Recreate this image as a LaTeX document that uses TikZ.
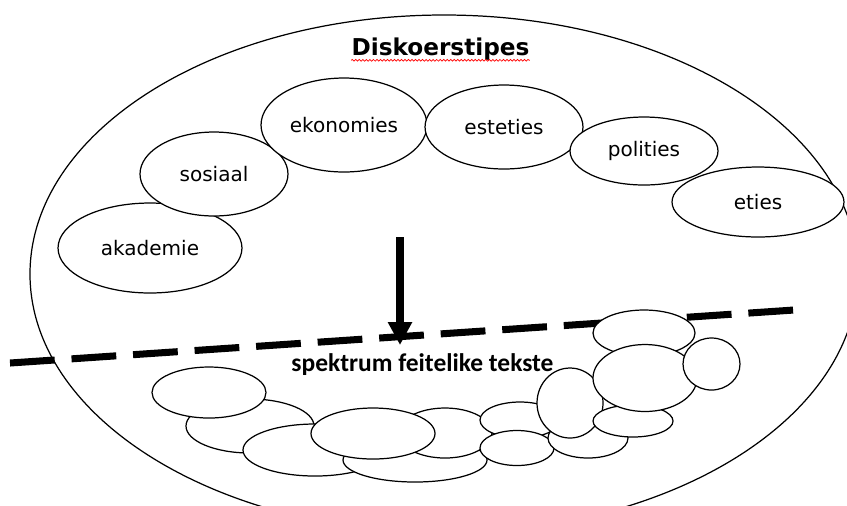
\documentclass[tikz,border=0pt]{standalone}
\usepackage{fontspec}
\setmainfont{DejaVu Sans}
\newfontfamily\calfont{Carlito}
\usetikzlibrary{arrows.meta,shapes.geometric,decorations.pathmorphing}

\tikzset{
  soort/.style={draw, ellipse, fill=white, line width=0.7pt, inner sep=0pt,
    font=\fontsize{11.4}{13}\selectfont},
  wolk/.style={draw, fill=white, line width=0.7pt},
}

\begin{document}
\begin{tikzpicture}[x=0.02cm, y=-0.02cm]
  \useasboundingbox (0,0) rectangle (847,505);
  % groot ellips
  \draw[line width=0.7pt] (444,274) ellipse [x radius=414, y radius=259];
  % titel
  \node[font=\fontsize{13.2}{15}\selectfont\bfseries, anchor=base, inner sep=0pt] (titel) at (440.5,55) {Diskoerstipes};
  \draw[red, line width=0.4pt, decorate, decoration={snake, amplitude=0.5pt, segment length=2pt}]
    ([yshift=-3pt]titel.base west) -- ([yshift=-3pt]titel.base east);
  % skeidslyn en pyl
  \coordinate (lynl) at (10,363);
  \coordinate (lynr) at (794,310);
  \draw[line width=4pt, dash pattern=on 25.5pt off 9.6pt] (lynl) -- (lynr);
  \coordinate (pylbo) at (400,237);
  \coordinate (pylpunt) at (400,345);
  \draw[line width=4pt, -{Triangle[length=13pt,width=13pt]}] (pylbo) -- (pylpunt);
  % diskoerstipes
  \node[soort, minimum width=3.68cm, minimum height=1.80cm] (akademie) at (150,248) {akademie};
  \node[soort, minimum width=2.96cm, minimum height=1.68cm] (sosiaal) at (214,174) {sosiaal};
  \node[soort, minimum width=3.32cm, minimum height=1.88cm] (ekonomies) at (344,125) {ekonomies};
  \node[soort, minimum width=3.16cm, minimum height=1.68cm] (esteties) at (504,127) {esteties};
  \node[soort, minimum width=2.96cm, minimum height=1.36cm] (polities) at (644,151) {polities};
  \node[soort, minimum width=3.44cm, minimum height=1.40cm] (eties) at (758,202) {eties};
  % spektrum van tekste
  \foreach \cx/\cy/\rx/\ry in {250/426/64/27, 315/450/72/26, 209/392.5/57/25.5,
      415/460/72/22, 445/433/47/25, 373/433.5/62/25.5, 520/420/40/18, 517/448/37/17.5,
      588/438/40/20, 570/403/33/35, 644/333/51/23, 633/421/40/16, 645/378/52/33.5,
      711.5/364/28.5/26}
    \draw[wolk] (\cx,\cy) ellipse [x radius=\rx, y radius=\ry];
  \node[font=\calfont\bfseries\fontsize{14.5}{17}\selectfont, anchor=base, inner sep=0pt] (spektrum) at (422.5,371) {spektrum feitelike tekste};
\end{tikzpicture}
\end{document}
